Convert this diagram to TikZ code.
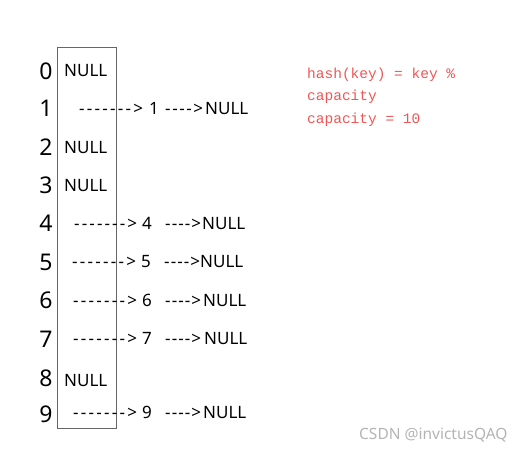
\documentclass[tikz,border=0pt]{standalone}
\usepackage{fontspec}
\setmainfont{Noto Sans}[Ligatures=TeXOff]
\newfontfamily\redmono{Liberation Mono}
% hyphen arrows spread evenly over a given width
\newcommand{\longarr}[1]{\hbox to #1{-\hfil-\hfil-\hfil-\hfil-\hfil-\hfil-\hfil>}}
\newcommand{\shortarr}[1]{\hbox to #1{-\hfil-\hfil-\hfil-\hfil>}}
\definecolor{hashred}{RGB}{240,85,85}
\definecolor{wmgray}{RGB}{180,180,180}
\begin{document}
\begin{tikzpicture}[x=1pt,y=-1pt,
  idx/.style={font=\fontsize{23}{23}\selectfont, anchor=base},
  txt/.style={font=\fontsize{17}{17}\selectfont, anchor=base west, inner sep=0pt},
  note/.style={font=\redmono\fontsize{14.5}{14.5}\selectfont, text=hashred, anchor=base west, inner sep=0pt},
  box/.style={draw=black!60, line width=0.8pt}]
\useasboundingbox (0,0) rectangle (523,451);
\draw[box] (57,47) rectangle (116,428);
% indices
\node[idx] (i0) at (46,79) {0};
\node[idx] (i1) at (46,116) {1};
\node[idx] (i2) at (46,155) {2};
\node[idx] (i3) at (46,193) {3};
\node[idx] (i4) at (46,231) {4};
\node[idx] (i5) at (46,270) {5};
\node[idx] (i6) at (46,308) {6};
\node[idx] (i7) at (46,347) {7};
\node[idx] (i8) at (46,386) {8};
\node[idx] (i9) at (46,422) {9};
% NULL entries in the table
\node[txt] (n0) at (64,76) {NULL};
\node[txt] (n2) at (64,153) {NULL};
\node[txt] (n3) at (64,191) {NULL};
\node[txt] (n8) at (64,386) {NULL};
% row 1
\node[txt] (a1) at (79,114) {\longarr{64pt}};
\node[txt] (k1) at (149,114) {1};
\node[txt] (b1) at (165,114) {\shortarr{38pt}};
\node[txt] (z1) at (205,114) {NULL};
% row 4
\node[txt] (a4) at (74,229) {\longarr{63pt}};
\node[txt] (k4) at (142,229) {4};
\node[txt] (b4) at (165,229) {\shortarr{36pt}};
\node[txt] (z4) at (202,229) {NULL};
% row 5
\node[txt] (a5) at (72,267) {\longarr{64pt}};
\node[txt] (k5) at (141,267) {5};
\node[txt] (b5) at (164,267) {\shortarr{36pt}};
\node[txt] (z5) at (200,267) {NULL};
% row 6
\node[txt] (a6) at (73,306) {\longarr{64pt}};
\node[txt] (k6) at (142,306) {6};
\node[txt] (b6) at (165,306) {\shortarr{36pt}};
\node[txt] (z6) at (203,306) {NULL};
% row 7
\node[txt] (a7) at (73,344) {\longarr{64pt}};
\node[txt] (k7) at (142,344) {7};
\node[txt] (b7) at (165,344) {\shortarr{36pt}};
\node[txt] (z7) at (204,344) {NULL};
% row 9
\node[txt] (a9) at (73,418) {\longarr{64pt}};
\node[txt] (k9) at (142,418) {9};
\node[txt] (b9) at (165,418) {\shortarr{36pt}};
\node[txt] (z9) at (203,418) {NULL};
% note
\node[note] (h1) at (307,78) {hash(key) = key \%};
\node[note] (h2) at (307,100) {capacity};
\node[note] (h3) at (307,123) {capacity = 10};
% watermark
\node[font=\fontsize{15.5}{15.5}\selectfont, text=wmgray, anchor=base west, inner sep=0pt] (wm) at (359,439) {CSDN @invictusQAQ};
\end{tikzpicture}
\end{document}
